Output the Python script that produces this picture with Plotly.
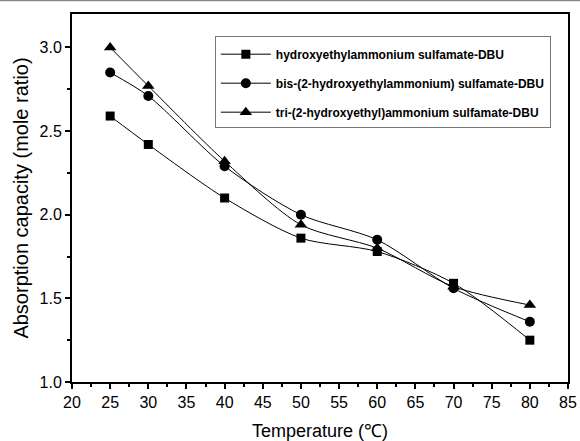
import plotly.graph_objects as go

temperature = [25, 30, 40, 50, 60, 70, 80]
hydroxyethyl = [2.59, 2.42, 2.10, 1.86, 1.78, 1.59, 1.25]
bis_hydroxyethyl = [2.85, 2.71, 2.29, 2.00, 1.85, 1.56, 1.36]
tri_hydroxyethyl = [3.00, 2.77, 2.32, 1.94, 1.80, 1.57, 1.46]

series_names = [
    "hydroxyethylammonium sulfamate-DBU",
    "bis-(2-hydroxyethylammonium) sulfamate-DBU",
    "tri-(2-hydroxyethyl)ammonium sulfamate-DBU",
]
series_values = [hydroxyethyl, bis_hydroxyethyl, tri_hydroxyethyl]
series_symbols = ["square", "circle", "triangle-up"]
series_sizes = [9, 10, 11]

fig = go.Figure()
for i, (name, vals, sym, sz) in enumerate(zip(series_names, series_values, series_symbols, series_sizes)):
    fig.add_trace(go.Scatter(
        x=temperature, y=vals, name=name, mode="lines+markers",
        legendgroup=f"g{i}",
        line=dict(color="black", width=1, shape="spline", smoothing=0.8),
        marker=dict(symbol=sym, size=sz, color="black"),
    ))

fig.add_shape(type="line", xref="paper", yref="paper",
              x0=-0.2, x1=1.1, y0=1.0375, y1=1.0375,
              line=dict(color="#888888", width=2))

fig.update_layout(
    width=580, height=441,
    margin=dict(l=72, r=12, t=14, b=59),
    paper_bgcolor="white", plot_bgcolor="white",
    font=dict(family="Liberation Sans, Arial, sans-serif", color="black"),
    showlegend=True,
    legend=dict(
        x=0.288, y=0.94, xanchor="left", yanchor="top",
        bordercolor="#777777", borderwidth=1, bgcolor="white",
        font=dict(size=12, family="Liberation Sans, Arial, sans-serif", weight="bold"),
        itemwidth=50, tracegroupgap=10, traceorder="grouped",
        title=dict(text=" ", font=dict(size=2)),
    ),
    xaxis=dict(
        title=dict(text="Temperature (℃)", font=dict(size=18), standoff=14),
        range=[20, 85], tick0=20, dtick=5, automargin=False,
        ticks="outside", ticklen=5, tickwidth=1.5, tickcolor="black",
        tickfont=dict(size=16),
        minor=dict(dtick=2.5, ticks="outside", ticklen=3, tickwidth=1.5, tickcolor="black"),
        showline=True, linecolor="black", linewidth=2, mirror=True,
        showgrid=False, zeroline=False,
    ),
    yaxis=dict(
        title=dict(text="Absorption capacity (mole ratio)", font=dict(size=20), standoff=6),
        range=[1.0, 3.2], tick0=1.0, dtick=0.5, tickformat=".1f", automargin=False,
        ticks="outside", ticklen=5, tickwidth=1.5, tickcolor="black",
        tickfont=dict(size=16),
        minor=dict(dtick=0.25, ticks="outside", ticklen=3, tickwidth=1.5, tickcolor="black"),
        showline=True, linecolor="black", linewidth=2, mirror=True,
        showgrid=False, zeroline=False,
    ),
)

fig.write_html("out.html")
